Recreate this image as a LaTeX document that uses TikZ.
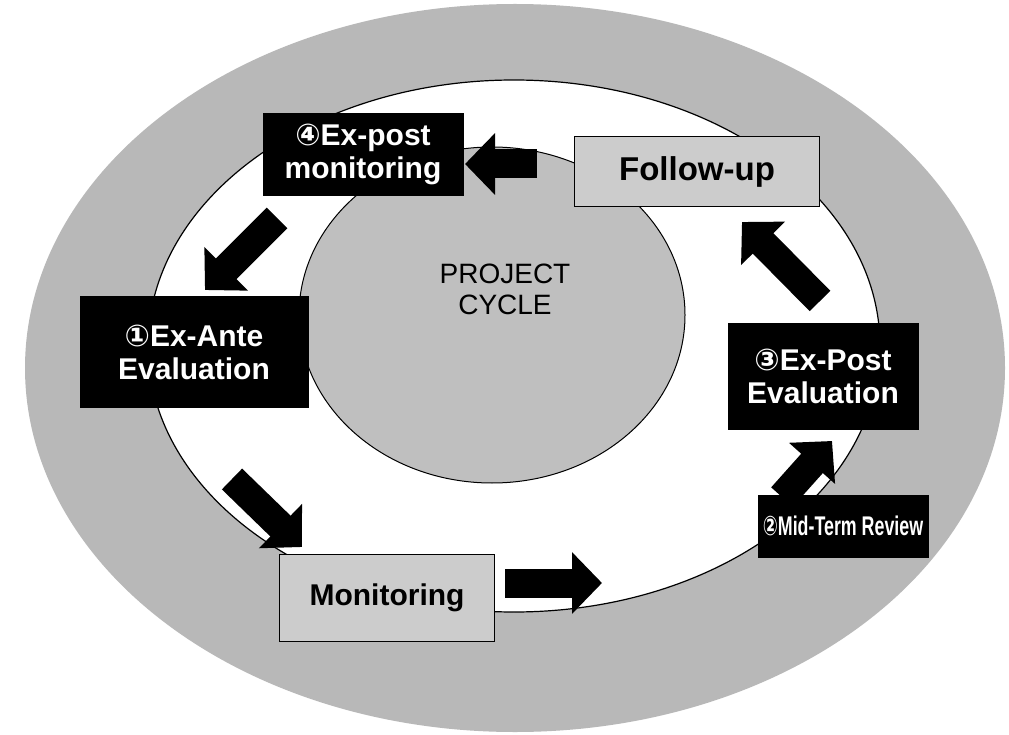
\documentclass[tikz,border=0pt]{standalone}
\usepackage{fontspec}
\setmainfont{Liberation Sans}
\newfontfamily\dvs{DejaVu Sans}
\usetikzlibrary{arrows.meta}
\begin{document}
\begin{tikzpicture}[x=1pt,y=-1pt,
  darkbox/.style={draw=black,fill=black,text=white,font=\bfseries\fontsize{30}{33}\selectfont,align=center,inner sep=0pt},
  lightbox/.style={draw=black,line width=1pt,fill=black!20,text=black,font=\bfseries\fontsize{30}{33}\selectfont,align=center,inner sep=0pt},
  blockarrow/.style={line width=29pt,-{Triangle[length=30pt,width=60pt]},black}]
\useasboundingbox (0,0) rectangle (1009,735);
\fill[white] (0,0) rectangle (1009,735);
% ellipses
\fill[black!28] (515,368) ellipse [x radius=490, y radius=364];
\draw[fill=white,line width=1.2pt] (514,346) ellipse [x radius=366, y radius=266];
\draw[fill=black!25,line width=1pt] (492,315) ellipse [x radius=193, y radius=168];
\node (pc) at (505,293) {\fontsize{28}{31}\selectfont\begin{tabular}{c}PROJECT\\CYCLE\end{tabular}};
% boxes
\node[darkbox,minimum width=200pt,minimum height=82pt] (epm) at (363,154) {{\dvs ④}Ex-post\\monitoring};
\node[lightbox,minimum width=245pt,minimum height=70pt,font=\bfseries\fontsize{33}{36}\selectfont] (fu) at (697,172) {Follow-up};
\node[darkbox,minimum width=228pt,minimum height=111pt] (eae) at (194,352) {{\dvs ①}Ex-Ante\\Evaluation};
\node[darkbox,minimum width=190pt,minimum height=106pt] (epe) at (823,376) {{\dvs ③}Ex-Post\\Evaluation};
\node[darkbox,minimum width=170pt,minimum height=62pt,font=\bfseries\fontsize{27}{30}\selectfont] (mtr) at (843,526) {\scalebox{0.66}[1]{{\dvs ②}Mid-Term Review}};
\node[lightbox,minimum width=215pt,minimum height=87pt] (mon) at (387,598) {Monitoring};
% arrow end points
\coordinate (a1s) at (537,164); \coordinate (a1e) at (465,164);
\coordinate (a2s) at (277,218); \coordinate (a2e) at (205,290);
\coordinate (a3s) at (232,479); \coordinate (a3e) at (302,547);
\coordinate (a4s) at (505,583); \coordinate (a4e) at (602,583);
\coordinate (a5s) at (782,497); \coordinate (a5e) at (832,441);
\coordinate (a6s) at (820,301); \coordinate (a6e) at (742,222);
\draw[blockarrow] (a1s) -- (a1e);
\draw[blockarrow] (a2s) -- (a2e);
\draw[blockarrow] (a3s) -- (a3e);
\draw[blockarrow] (a4s) -- (a4e);
\draw[blockarrow] (a5s) -- (a5e);
\draw[blockarrow] (a6s) -- (a6e);
\end{tikzpicture}
\end{document}
